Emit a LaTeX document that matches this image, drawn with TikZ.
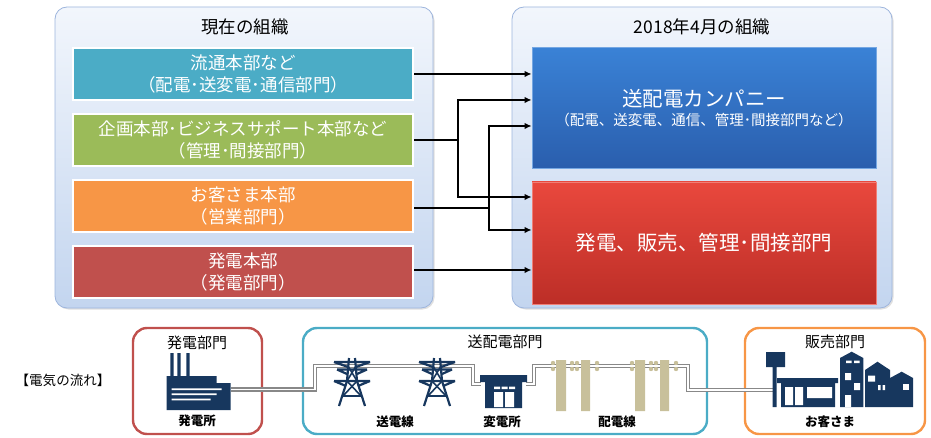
\documentclass[tikz,border=0pt]{standalone}
\usepackage{fontspec}
\setmainfont{Noto Sans CJK JP}
\usetikzlibrary{arrows.meta,shadows}
\definecolor{deptteal}{HTML}{4BACC6}
\definecolor{deptgreen}{HTML}{9BBB59}
\definecolor{deptorange}{HTML}{F79646}
\definecolor{deptred}{HTML}{C0504D}
\definecolor{paneltop}{HTML}{F2F6FC}
\definecolor{panelbot}{HTML}{C3D5EF}
\definecolor{panelline}{HTML}{9DB5DD}
\definecolor{bluetop}{HTML}{3A82D6}
\definecolor{bluebot}{HTML}{2A5EAD}
\definecolor{redtop}{HTML}{E9483D}
\definecolor{redbot}{HTML}{BC2E27}
\definecolor{navy}{HTML}{17375E}
\definecolor{poletan}{HTML}{C8C09B}
\definecolor{wiregray}{HTML}{888888}
\begin{document}
\begin{tikzpicture}[x=1pt,y=-1pt,>={Latex[length=7pt,width=6.5pt]},
  panel/.style={draw=panelline,line width=.8pt,rounded corners=12pt,top color=paneltop,bottom color=panelbot,drop shadow={opacity=.25,shadow xshift=1.5pt,shadow yshift=-1.5pt}},
  dept/.style={draw=white,line width=2.5pt,minimum width=340pt,minimum height=52pt,text=white,align=center,font=\fontsize{17.5}{22}\selectfont,drop shadow={opacity=.2,shadow xshift=1pt,shadow yshift=-1pt}},
  company/.style={draw=#1top!70!white,line width=.8pt,minimum width=344pt,minimum height=121pt,text=white,align=center,top color=#1top,bottom color=#1bot},
  conn/.style={line width=1.8pt},
  grpframe/.style={line width=2.4pt,rounded corners=14pt},
  head/.style={font=\fontsize{17.5}{20}\selectfont},
  sect/.style={font=\fontsize{15}{18}\selectfont},
  lab/.style={font=\bfseries\fontsize{12.5}{15}\selectfont},
  icon/.style={fill=navy},
  polefill/.style={fill=poletan},
  tower/.style={draw=navy,line width=2.2pt},
  wire/.style={draw=wiregray,line width=1.5pt,double=white,double distance=1.8pt}]
\useasboundingbox (0,0) rectangle (931,438);
\draw[panel] (55,7) rectangle (433,308);
\draw[panel] (512,7) rectangle (892,308);
\node[head] (now) at (245,27) {現在の組織};
\node[head] (next) at (702,27) {2018年4月の組織};
\node[dept,fill=deptteal] (b1) at (243,74) {流通本部など\\（配電･送変電･通信部門）};
\node[dept,fill=deptgreen] (b2) at (243,140) {企画本部･ビジネスサポート本部など\\（管理･間接部門）};
\node[dept,fill=deptorange] (b3) at (243,206) {お客さま本部\\（営業部門）};
\node[dept,fill=deptred] (b4) at (243,272) {発電本部\\（発電部門）};
\node[company=blue] (blue) at (704,108) {{\fontsize{20.5}{24}\selectfont 送配電カンパニー}\\[4pt]{\fontsize{14.5}{17}\selectfont （配電、送変電、通信、管理･間接部門など）}};
\node[company=red,minimum height=122pt,font=\fontsize{20.5}{24}\selectfont] (red) at (704,243) {発電、販売、管理･間接部門};
\coordinate (j2) at (458,140);
\coordinate (j3) at (489,208);
\path (0,100) coordinate (lv2) (0,126) coordinate (lv3) (0,197) coordinate (lv5) (0,230) coordinate (lv6);
\draw[->,conn] (b1.east) -- (b1.east -| blue.west);
\draw[conn] (b2.east) -- (j2);
\draw[->,conn] (j2) |- (blue.west |- lv2);
\draw[->,conn] (j2) |- (red.west |- lv5);
\draw[conn] (b3.east |- j3) -- (j3);
\draw[->,conn] (j3) |- (blue.west |- lv3);
\draw[->,conn] (j3) |- (red.west |- lv6);
\draw[->,conn] ([yshift=2pt]b4.east) -- ([yshift=2pt]b4.east -| red.west);
\node[font=\fontsize{13.5}{16}\selectfont] (flow) at (63,380) {【電気の流れ】};
\draw[grpframe,draw=deptred] (133,328) rectangle (262,434);
\draw[grpframe,draw=deptteal] (303,328) rectangle (707,434);
\draw[grpframe,draw=deptorange] (745,328) rectangle (925,434);
\node[sect] (gen) at (197,343) {発電部門};
\node[sect] (trans) at (505,342) {送配電部門};
\node[sect] (sales) at (835,342) {販売部門};
\node[lab] (plant) at (197,421) {発電所};
\node[lab] (line) at (395,422) {送電線};
\node[lab] (sub) at (502,422) {変電所};
\node[lab] (dist) at (617,422) {配電線};
\node[lab] (cust) at (830,422) {お客さま};
\draw[wire] (231,389.5) -- (315,389.5) -- (315,366) -- (473,366) -- (473,384) -- (481,384);
\draw[wire] (526,384) -- (534,384) -- (534,366) -- (688,366) -- (688,390) -- (774,390);
\fill[icon] (166.7,376) rectangle (216.7,410) (216.7,383) rectangle (230.7,410);
\fill[icon] (170.3,353) rectangle (173.7,376) (177.3,353) rectangle (180.7,376) (186.3,353) rectangle (189.7,376);
\fill[white] (171.7,388.3) rectangle (221.7,390) (171.7,393.3) rectangle (216.7,395) (171.7,398.7) rectangle (210.7,400.3);
\foreach \cx in {352,437}{
  \draw[tower,shift={(\cx,0)}] (-3,358) -- (-5,381) -- (-13,406) (3,358) -- (5,381) -- (13,406);
  \draw[tower,shift={(\cx,0)}] (-18,362) -- (18,362) (-18,362) -- (-4,367) (18,362) -- (4,367)
    (-15,369.5) -- (15,369.5) (-15,369.5) -- (-5,374) (15,369.5) -- (5,374)
    (-18,381) -- (18,381) (-18,381) -- (-6,386) (18,381) -- (6,386);
  \draw[tower,line width=1.6pt,shift={(\cx,0)}] (-4,366) -- (5,381) (4,366) -- (-5,381) (-5,381) -- (9,396) (5,381) -- (-9,396) (-9,396) -- (9,396);
}
\fill[icon] (480,375) rectangle (527,382) (485,382) rectangle (522,408);
\fill[white] (494,386.7) rectangle (500,389) (501.7,386.7) rectangle (507.7,389) (509,386.7) rectangle (515,389)
  (494,392) rectangle (503,407) (505,392) rectangle (514,407);
\foreach \px in {556,635}{
  \fill[polefill,shift={(\px,0)}] (0,360) rectangle (10,411) (25,360) rectangle (34,411);
  \foreach \ix in {-3,16,21,41}
    \fill[polefill,shift={(\px,0)}] (\ix,363) circle (2.2) (\ix,369) circle (2.2);
}
\fill[icon] (766,352) rectangle (785,367) (772.7,367) rectangle (776.7,407);
\fill[icon] (777,378) rectangle (838,383) (781,383) rectangle (835,407);
\fill[white] (785,387) rectangle (793,405) (795,387) rectangle (803,405) (807,387) rectangle (832,398);
\fill[icon] (840,358) -- (851.7,351.7) -- (863.3,358) -- (863.3,407) -- (840,407) -- cycle;
\fill[white] (846,360.5) rectangle (851.5,363) (854,360.5) rectangle (859.5,363) (845,373) rectangle (851,380) (854,383) rectangle (860,390) (845,395) rectangle (851,407);
\fill[icon] (865,370) -- (877.5,361.7) -- (890,370) -- (890,407) -- (865,407) -- cycle;
\fill[white] (868,375.7) rectangle (875,381.7) (878,385) rectangle (880.5,390) (882.5,385) rectangle (885,390);
\fill[icon] (890,378) -- (901.7,371.7) -- (913,378) -- (913,407) -- (890,407) -- cycle;
\fill[white] (902.7,384) rectangle (909,390);
\end{tikzpicture}
\end{document}
